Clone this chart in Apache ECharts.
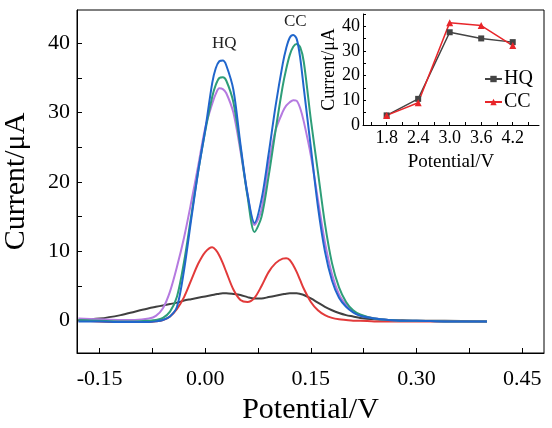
<!DOCTYPE html>
<html>
<head>
<meta charset="utf-8">
<script src="https://cdn.jsdelivr.net/npm/echarts@6/dist/echarts.min.js"></script>
<style>
  html, body { margin: 0; padding: 0; background: #fff; }
  #chart { width: 552px; height: 428px; }
</style>
</head>
<body>
<div id="chart"></div>
<script>
// main DPV curves, x = potential (V), y = current (uA)
var potential = [-0.18, -0.15, -0.12, -0.10, -0.08, -0.07, -0.06, -0.05, -0.04, -0.03, -0.02, -0.01,
  0.00, 0.01, 0.015, 0.02, 0.025, 0.03, 0.04, 0.05, 0.06, 0.07, 0.08, 0.09, 0.10, 0.11, 0.115,
  0.12, 0.125, 0.13, 0.135, 0.14, 0.15, 0.16, 0.17, 0.18, 0.19, 0.20, 0.21, 0.22, 0.24, 0.26,
  0.28, 0.30, 0.34, 0.40];

var blueCurve = [-0.1, -0.1, -0.2, -0.2, -0.2, -0.1, 0.1, 0.6, 2.0, 7.3, 14.5, 21.5,
  27.5, 34.3, 36.4, 37.4, 37.5, 36.8, 33.3, 25.5, 18.3, 14.1, 17.5, 24.0, 31.0, 37.0, 39.3,
  40.8, 41.2, 40.6, 37.8, 33.5, 25.0, 16.5, 10.0, 5.8, 3.3, 2.0, 1.2, 0.7, 0.3, 0.1,
  0.0, 0.0, -0.1, -0.1];

var greenCurve = [0.1, 0.0, -0.1, -0.1, 0.0, 0.1, 0.4, 1.3, 3.5, 8.5, 15.0, 21.5,
  27.3, 32.3, 34.0, 35.0, 35.1, 34.6, 31.5, 25.0, 18.0, 12.8, 15.0, 20.8, 27.5, 33.8, 36.3,
  38.3, 39.5, 39.9, 39.4, 37.3, 29.0, 21.5, 14.0, 8.3, 4.8, 2.7, 1.5, 0.9, 0.3, 0.1,
  0.0, 0.0, -0.1, -0.1];

var purpleCurve = [0.3, 0.2, 0.1, 0.1, 0.3, 0.7, 1.8, 4.2, 7.8, 12.0, 17.0, 22.3,
  27.8, 31.3, 32.7, 33.5, 33.4, 32.8, 30.0, 24.5, 18.3, 13.8, 16.0, 22.5, 27.5, 30.1, 31.0,
  31.5, 31.8, 31.7, 30.6, 28.7, 23.8, 17.5, 11.3, 6.7, 3.8, 2.3, 1.3, 0.8, 0.35, 0.1,
  0.0, 0.0, -0.1, -0.1];

var redCurve = [0.0, -0.1, -0.2, -0.2, -0.2, -0.1, 0.1, 0.6, 1.7, 3.4, 5.8, 8.2,
  9.9, 10.6, 10.2, 9.4, 8.3, 7.0, 4.5, 3.0, 2.7, 3.3, 5.0, 7.0, 8.3, 8.95, 9.0,
  8.75, 8.0, 7.0, 5.8, 4.6, 2.7, 1.5, 0.8, 0.4, 0.2, 0.1, 0.0, 0.0, -0.1, -0.1,
  -0.1, -0.1, -0.1, -0.1];

var grayCurve = [0.1, 0.3, 0.8, 1.3, 1.8, 2.0, 2.2, 2.4, 2.6, 2.9, 3.1, 3.3,
  3.5, 3.7, 3.8, 3.9, 3.95, 3.95, 3.85, 3.7, 3.4, 3.2, 3.2, 3.4, 3.6, 3.8, 3.9,
  3.95, 3.95, 3.95, 3.85, 3.7, 3.2, 2.6, 2.0, 1.5, 1.1, 0.8, 0.6, 0.4, 0.2, 0.1,
  0.05, 0.0, 0.0, -0.1];

// main axis ticks
var mainXLabels = [-0.15, 0.00, 0.15, 0.30, 0.45];
var mainXTicks = [-0.15, -0.075, 0.00, 0.075, 0.15, 0.225, 0.30, 0.375, 0.45];
var mainYLabels = [0, 10, 20, 30, 40];
var mainYTicks = [0, 5, 10, 15, 20, 25, 30, 35, 40];

// inset: peak current vs deposition potential
var insetPotential = [1.8, 2.4, 3.0, 3.6, 4.2];
var insetHQ = [3.9, 10.6, 37.6, 35.1, 33.6];
var insetCC = [3.9, 9.0, 41.5, 40.3, 32.2];
var insetXLabels = [1.8, 2.4, 3.0, 3.6, 4.2];
var insetXTicks = [1.5, 1.8, 2.1, 2.4, 2.7, 3.0, 3.3, 3.6, 3.9, 4.2, 4.5];
var insetYLabels = [0, 10, 20, 30, 40];
var insetYTicks = [0, 5, 10, 15, 20, 25, 30, 35, 40, 45];

var font = "'Liberation Serif', 'Times New Roman', serif";

function pairs(xs, ys) {
  return xs.map(function (x, i) { return [x, ys[i]]; });
}

function curve(name, data, color) {
  return {
    name: name,
    type: 'line',
    xAxisIndex: 0,
    yAxisIndex: 0,
    smooth: 0.3,
    symbol: 'none',
    data: pairs(potential, data),
    lineStyle: { color: color, width: 2 },
    z: 3
  };
}

var chart = echarts.init(document.getElementById('chart'));

var option = {
  animation: false,
  backgroundColor: '#fff',
  textStyle: { fontFamily: font },
  grid: [
    { left: 77, right: 8, top: 10, bottom: 75, outerBoundsMode: 'none', containLabel: false,
      show: true, borderColor: '#000', borderWidth: 1, backgroundColor: 'transparent' },
    { left: 363, right: 13, top: 14, bottom: 303, outerBoundsMode: 'none', containLabel: false, show: false }
  ],
  xAxis: [
    {
      type: 'value', gridIndex: 0, min: -0.182, max: 0.481,
      name: 'Potential/V', nameLocation: 'middle', nameGap: 42,
      nameTextStyle: { fontFamily: font, fontSize: 30, color: '#000' },
      axisLine: { show: true, onZero: false, lineStyle: { color: '#000', width: 1 } },
      axisTick: { show: true, inside: true, length: 5, customValues: mainXTicks, lineStyle: { color: '#000' } },
      axisLabel: {
        customValues: mainXLabels, fontFamily: font, fontSize: 22, color: '#000', margin: 15,
        formatter: function (v) { return v.toFixed(2); }
      },
      splitLine: { show: false }
    },
    {
      type: 'value', gridIndex: 1, min: 1.35, max: 4.7,
      name: 'Potential/V', nameLocation: 'middle', nameGap: 28,
      nameTextStyle: { fontFamily: font, fontSize: 19, color: '#000' },
      axisLine: { show: true, onZero: false, lineStyle: { color: '#000', width: 1 } },
      axisTick: { show: true, inside: true, length: 3, customValues: insetXTicks, lineStyle: { color: '#000' } },
      axisLabel: {
        customValues: insetXLabels, fontFamily: font, fontSize: 18, color: '#000', margin: 4,
        formatter: function (v) { return v.toFixed(1); }
      },
      splitLine: { show: false }
    }
  ],
  yAxis: [
    {
      type: 'value', gridIndex: 0, min: -4.66, max: 44.8,
      name: 'Current/\u03bcA', nameLocation: 'middle', nameGap: 46,
      nameTextStyle: { fontFamily: font, fontSize: 30, color: '#000' },
      axisLine: { show: true, onZero: false, lineStyle: { color: '#000', width: 1 } },
      axisTick: { show: true, inside: true, length: 5, customValues: mainYTicks, lineStyle: { color: '#000' } },
      axisLabel: { customValues: mainYLabels, fontFamily: font, fontSize: 22, color: '#000', margin: 7 },
      splitLine: { show: false }
    },
    {
      type: 'value', gridIndex: 1, min: 0, max: 45,
      name: 'Current/\u03bcA', nameLocation: 'middle', nameGap: 22,
      nameTextStyle: { fontFamily: font, fontSize: 18, color: '#000' },
      axisLine: { show: true, onZero: false, lineStyle: { color: '#000', width: 1 } },
      axisTick: { show: true, inside: true, length: 3, customValues: insetYTicks, lineStyle: { color: '#000' } },
      axisLabel: { customValues: insetYLabels, fontFamily: font, fontSize: 18, color: '#000', margin: 3 },
      splitLine: { show: false }
    }
  ],
  legend: {
    data: ['HQ', 'CC'],
    orient: 'vertical',
    left: 479, top: 64,
    itemWidth: 17, itemHeight: 8, itemGap: 3,
    textStyle: { fontFamily: font, fontSize: 20, color: '#000', padding: [0, 0, 0, -3] }
  },
  graphic: [
    { type: 'text', left: 212, top: 35, style: { text: 'HQ', font: '17px ' + font, fill: '#222' } },
    { type: 'text', left: 284, top: 13, style: { text: 'CC', font: '17px ' + font, fill: '#222' } }
  ],
  series: [
    curve('bare', grayCurve, '#404040'),
    curve('red', redCurve, '#e23a3a'),
    curve('purple', purpleCurve, '#b57ae0'),
    curve('green', greenCurve, '#2e9e78'),
    curve('blue', blueCurve, '#2066cc'),
    {
      name: 'HQ', type: 'line', xAxisIndex: 1, yAxisIndex: 1,
      data: pairs(insetPotential, insetHQ),
      symbol: 'rect', symbolSize: 6,
      lineStyle: { color: '#444', width: 1.5 },
      itemStyle: { color: '#444' }
    },
    {
      name: 'CC', type: 'line', xAxisIndex: 1, yAxisIndex: 1,
      data: pairs(insetPotential, insetCC),
      symbol: 'triangle', symbolSize: 7,
      lineStyle: { color: '#e8262a', width: 1.5 },
      itemStyle: { color: '#e8262a' }
    }
  ]
};

chart.setOption(option);
</script>
</body>
</html>
